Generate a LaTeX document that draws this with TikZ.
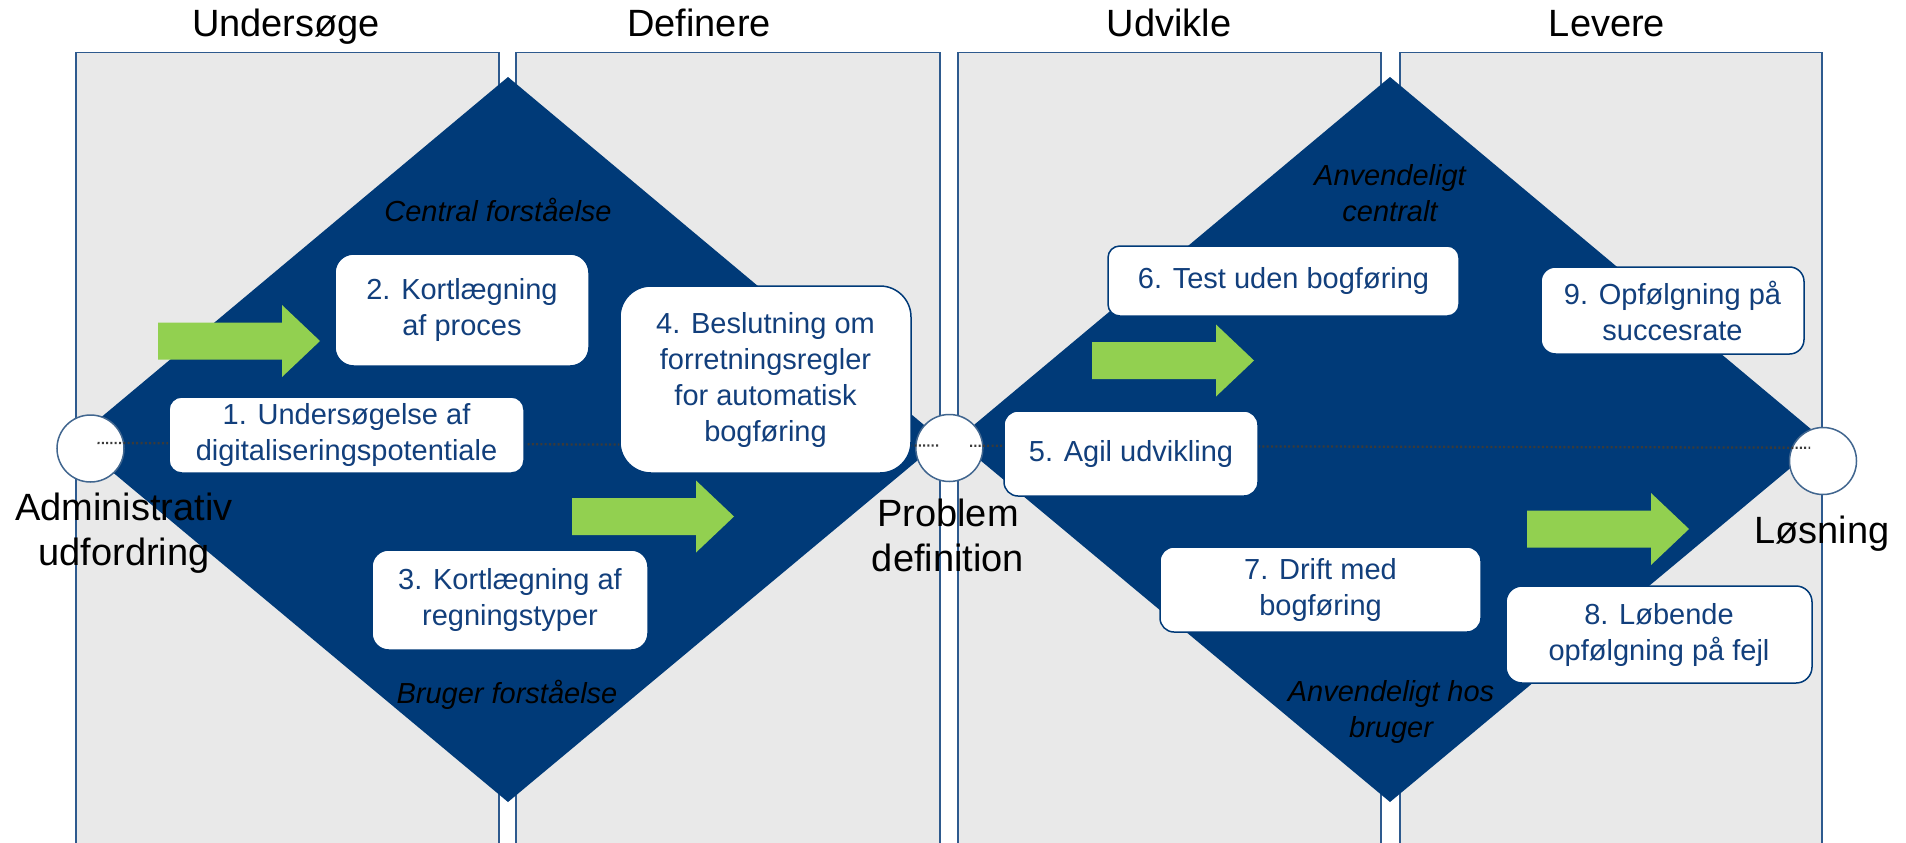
\documentclass[tikz,border=0pt]{standalone}
\usepackage{fontspec}
\setmainfont{Liberation Sans}
\usetikzlibrary{calc}

\definecolor{navy}{HTML}{003A78}
\definecolor{panelgray}{HTML}{E9E9E9}
\definecolor{panelblue}{HTML}{2E5A8E}
\definecolor{ringblue}{HTML}{41668F}
\definecolor{dotgray}{HTML}{3A3A3A}
\definecolor{boxtext}{HTML}{123F7C}
\definecolor{leafgreen}{HTML}{92D050}

\begin{document}
\begin{tikzpicture}[x=1pt, y=-1pt,
  panelfill/.style={fill=panelgray},
  paneledge/.style={draw=panelblue, line width=1.5pt},
  diam/.style={fill=navy},
  stage/.style={circle, fill=white, draw=ringblue, line width=1.5pt,
                minimum size=67pt, inner sep=0pt},
  dotline/.style={draw=dotgray, line width=2.3pt, dash pattern=on 2pt off 2.3pt},
  box/.style={rectangle, fill=white, draw=navy, line width=1.5pt, text=boxtext,
              align=center, inner sep=0pt, font=\fontsize{29}{36}\selectfont},
  heading/.style={anchor=base, font=\fontsize{38}{46}\selectfont},
  milestone/.style={align=center, font=\fontsize{38}{44.5}\selectfont},
  aspect/.style={align=center, font=\itshape\fontsize{29}{36}\selectfont},
  greenarrow/.pic={
    \fill[leafgreen] (0,-18.5) -- (124,-18.5) -- (124,-36) -- (162,0)
      -- (124,36) -- (124,18.5) -- (0,18.5) -- cycle;
  }
]
\useasboundingbox (0,0) rectangle (1906,843);
\fill[white] (0,0) rectangle (1906,843);

% phase columns
\foreach \l/\r in {76/499, 516/940, 958/1381, 1400/1822} {
  \fill[panelfill] (\l,52.5) rectangle (\r,850);
  \draw[paneledge] (\l,850) -- (\l,52.5) -- (\r,52.5) -- (\r,850);
}

% phase headings
\node[heading] (h1) at (286,37) {Undersøge};
\node[heading] (h2) at (699,37) {Definere};
\node[heading] (h3) at (1169,37) {Udvikle};
\node[heading] (h4) at (1607,37) {Levere};

% the two diamonds
\fill[diam] (74,440) -- (508,77) -- (942,440) -- (508,802) -- cycle;
\fill[diam] (956,440) -- (1390,77) -- (1824,440) -- (1390,802) -- cycle;

% milestones
\node[stage] (c1) at (90.5,448.5) {};
\node[stage] (c2) at (949.3,448) {};
\node[stage] (c3) at (1823,461) {};

% dotted axis between milestones
\coordinate (l1a) at ($(c1.center)+(7,-5.5)$);
\coordinate (l1b) at ($(c2.center)+(-11.3,-2.5)$);
\coordinate (l2a) at ($(c2.center)+(20.7,-2.3)$);
\coordinate (l2b) at ($(c3.center)+(-13,-13.3)$);
\draw[dotline] (l1a) -- (l1b);
\draw[dotline] (l2a) -- (l2b);

% activity boxes
\node[box, minimum width=355pt, minimum height=76pt, rounded corners=12.7pt]
  (b1) at (346.5,435) {1. Undersøgelse af\\digitaliseringspotentiale};
\node[box, minimum width=254pt, minimum height=112pt, rounded corners=18.7pt]
  (b2) at (462,310) {2. Kortlægning\\af proces};
\node[box, minimum width=276pt, minimum height=100pt, rounded corners=16.7pt]
  (b3) at (510,600) {3. Kortlægning af\\regningstyper};
\node[box, minimum width=291pt, minimum height=187pt, rounded corners=31pt]
  (b4) at (765.5,379.5) {4. Beslutning om\\forretningsregler\\for automatisk\\bogføring};
\node[box, minimum width=254pt, minimum height=85pt, rounded corners=14pt]
  (b5) at (1131,453.5) {5. Agil udvikling};
\node[box, minimum width=351pt, minimum height=70pt, rounded corners=11.7pt]
  (b6) at (1283.5,281) {6. Test uden bogføring};
\node[box, minimum width=321pt, minimum height=85pt, rounded corners=14pt]
  (b7) at (1320.5,589.5) {7. Drift med\\bogføring};
\node[box, minimum width=306pt, minimum height=97pt, rounded corners=16pt]
  (b8) at (1659,634.5) {8. Løbende\\opfølgning på fejl};
\node[box, minimum width=263pt, minimum height=87pt, rounded corners=14.5pt]
  (b9) at (1672.5,310.5) {9. Opfølgning på\\succesrate};

% progress arrows
\pic at (158,341) {greenarrow};
\pic at (572,516.5) {greenarrow};
\pic at (1092,360.5) {greenarrow};
\pic at (1527,529) {greenarrow};

% milestone labels
\node[milestone] (m1) at (124,533) {Administrativ\\udfordring};
\node[milestone] (m2) at (948,535.4) {Problem\\definition};
\node[milestone, anchor=base] (m3) at (1822,543) {Løsning};

% diamond captions
\node[aspect, anchor=base] (a1) at (498,221.5) {Central forståelse};
\node[aspect, anchor=base] (a2) at (507,703) {Bruger forståelse};
\node[aspect] (a3) at (1390,192.9) {Anvendeligt\\centralt};
\node[aspect] (a4) at (1391,712) {Anvendeligt hos\\bruger};
\end{tikzpicture}
\end{document}
